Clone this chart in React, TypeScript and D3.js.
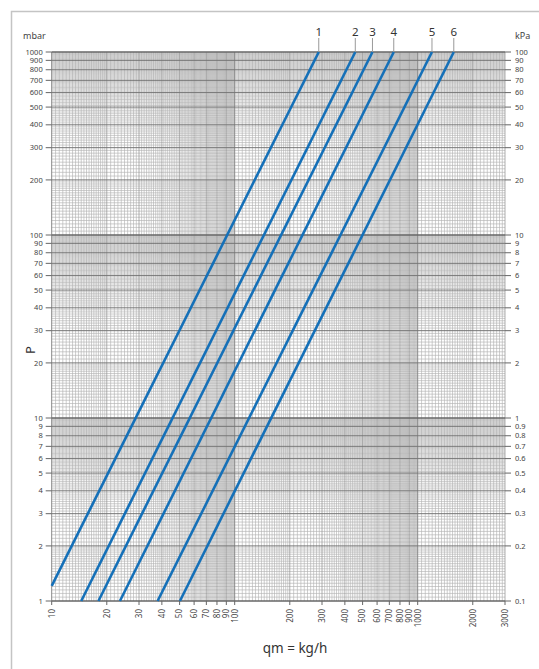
import React from "react";
import * as d3 from "d3";

// ---- data ----
const xTickValues = [10, 20, 30, 40, 50, 60, 70, 80, 90, 100, 200, 300, 400, 500, 600, 700, 800, 900, 1000, 2000, 3000];
const yTickValues = [1, 2, 3, 4, 5, 6, 7, 8, 9, 10, 20, 30, 40, 50, 60, 70, 80, 90, 100, 200, 300, 400, 500, 600, 700, 800, 900, 1000];
const curveNames = ["1", "2", "3", "4", "5", "6"];
const curveStartQ = [10, 14.5, 18, 23.6, 37.9, 50.2];
const curveStartP = [1.21, 1, 1, 1, 1, 1];
const curveEndQ = [288, 456, 566, 740, 1197, 1575];
const curveEndP = [1000, 1000, 1000, 1000, 1000, 1000];

const W = 539;
const H = 669;
const FONT = "'Noto Sans', 'DejaVu Sans', sans-serif";

const x = d3.scaleLog().domain([10, 3000]).range([51.7, 505]);
const y = d3.scaleLog().domain([1, 1000]).range([601, 52]);

function gridValues(min: number, max: number) {
  const minor: number[] = [];
  const major: number[] = [];
  const decade: number[] = [];
  for (let d = 1; d <= 1000; d *= 10) {
    for (let k = 1; k <= 9; k++) {
      const v = k * d;
      if (v >= min && v <= max) {
        if (k === 1) decade.push(v);
        else major.push(v);
      }
    }
    const pushRange = (a: number, b: number, step: number) => {
      for (let t = a + step; t < b - 1e-9; t += step) {
        if (Math.abs(t - Math.round(t)) < 1e-6) continue;
        const v = t * d;
        if (v > min && v < max) minor.push(v);
      }
    };
    pushRange(1, 2, 0.05);
    pushRange(2, 5, 0.1);
    pushRange(5, 10, 0.1);
  }
  if (!decade.includes(max) && !major.includes(max)) major.push(max);
  return { minor, major, decade };
}

const fmtKpa = (v: number) => {
  const k = v / 10;
  return k >= 1 ? String(Math.round(k)) : k.toFixed(1);
};

export default function App() {
  const [x0, x1] = x.range();
  const [y0, y1] = y.range();
  const gx = gridValues(10, 3000);
  const gy = gridValues(1, 1000);
  const line = d3
    .line<[number, number]>()
    .x((d) => x(d[0]))
    .y((d) => y(d[1]));

  return (
    <svg
      width={W}
      height={H}
      style={{ position: "absolute", left: 0, top: 0, background: "#fff" }}
      fontFamily={FONT}
    >
      <rect x={0} y={0} width={W} height={H} fill="#fff" />
      {/* frame */}
      <path d={`M11.5 ${H} V11.5 H${W}`} fill="none" stroke="#c4c4c4" strokeWidth={1.5} />

      {/* minor grid */}
      <g stroke="#b4b4b4" strokeWidth={0.65}>
        {gx.minor.map((v, i) => (
          <line key={"vx" + i} x1={x(v)} x2={x(v)} y1={y1} y2={y0} />
        ))}
        {gy.minor.map((v, i) => (
          <line key={"hy" + i} x1={x0} x2={x1} y1={y(v)} y2={y(v)} />
        ))}
      </g>
      {/* major grid */}
      <g stroke="#999" strokeWidth={0.8}>
        {gx.major.map((v, i) => (
          <line key={"mx" + i} x1={x(v)} x2={x(v)} y1={y1} y2={y0} />
        ))}
      </g>
      <g stroke="#888" strokeWidth={1}>
        {gx.decade.map((v, i) => (
          <line key={"dx" + i} x1={x(v)} x2={x(v)} y1={y1} y2={y0} />
        ))}
      </g>
      <g stroke="#747474" strokeWidth={1}>
        {gy.major.map((v, i) => (
          <line key={"my" + i} x1={x0} x2={x1} y1={y(v)} y2={y(v)} />
        ))}
      </g>
      <g stroke="#666" strokeWidth={1.3}>
        {gy.decade.map((v, i) => (
          <line key={"dy" + i} x1={x0} x2={x1} y1={y(v)} y2={y(v)} />
        ))}
      </g>

      {/* curves */}
      <g fill="none" stroke="#1570b8" strokeWidth={2.6} strokeLinecap="butt">
        {curveNames.map((n, i) => (
          <path
            key={"c" + n}
            d={line([
              [curveStartQ[i], curveStartP[i]],
              [curveEndQ[i], curveEndP[i]],
            ]) || ""}
          />
        ))}
      </g>

      {/* curve labels */}
      {curveNames.map((n, i) => {
        const cx = x(curveEndQ[i]);
        return (
          <g key={"l" + n}>
            <line x1={cx} x2={cx} y1={38} y2={y(curveEndP[i])} stroke="#999" strokeWidth={1} />
            <text x={cx} y={36} textAnchor="middle" fontSize={11.5} fill="#333">
              {n}
            </text>
          </g>
        );
      })}

      {/* left axis */}
      <g fontSize={7.5} fill="#444">
        {yTickValues.map((v) => (
          <g key={"ly" + v}>
            <line x1={x0 - 6} x2={x0} y1={y(v)} y2={y(v)} stroke="#666" strokeWidth={1} />
            <text x={x0 - 9} y={y(v)} dy="0.35em" textAnchor="end">
              {v}
            </text>
          </g>
        ))}
      </g>
      {/* right axis */}
      <g fontSize={7.5} fill="#444">
        {yTickValues.map((v) => (
          <g key={"ry" + v}>
            <line x1={x1} x2={x1 + 6} y1={y(v)} y2={y(v)} stroke="#666" strokeWidth={1} />
            <text x={x1 + 10} y={y(v)} dy="0.35em" textAnchor="start">
              {fmtKpa(v)}
            </text>
          </g>
        ))}
      </g>
      {/* bottom axis */}
      <g fontSize={8} fill="#444">
        {xTickValues.map((v) => (
          <g key={"bx" + v}>
            <line x1={x(v)} x2={x(v)} y1={y0} y2={y0 + 4} stroke="#666" strokeWidth={1} />
            <text
              transform={`translate(${x(v)},${y0 + 8}) rotate(-90)`}
              dy="0.35em"
              textAnchor="end"
            >
              {v}
            </text>
          </g>
        ))}
      </g>

      {/* axis titles */}
      <text x={23} y={39} fontSize={9} fill="#444">mbar</text>
      <text x={515} y={39} fontSize={9} fill="#444">kPa</text>
      <text transform={`translate(35,350) rotate(-90)`} textAnchor="middle" fontSize={13} fill="#333">
        P
      </text>
      <text x={295} y={653} textAnchor="middle" fontSize={13.5} fill="#333">
        qm = kg/h
      </text>
    </svg>
  );
}
